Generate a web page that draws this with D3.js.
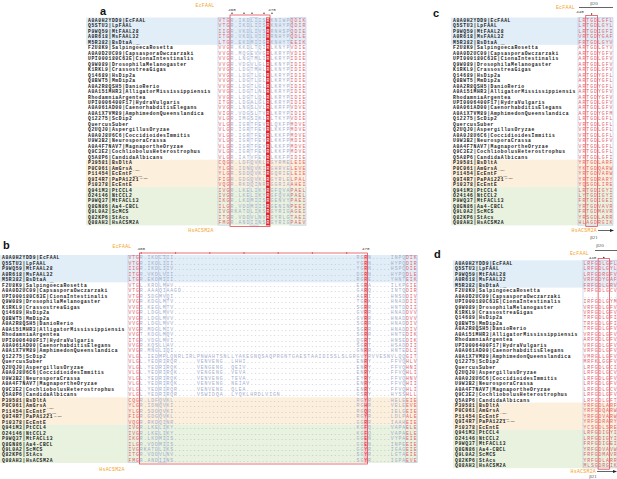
<!DOCTYPE html>
<html>
<head>
<meta charset="utf-8">
<script src="https://cdn.jsdelivr.net/npm/d3@7"></script>
<style>
  body { margin: 0; background: #fff; }
  svg { display: block; }
  text { font-family: "Liberation Mono", "DejaVu Sans Mono", monospace; }
  .lbl { font-weight: bold; font-size: 4.7px; letter-spacing: 0.6px; fill: #1b1b1b; }
  .res { font-size: 4.8px; }
  .tag { font-size: 4.8px; letter-spacing: 0.3px; fill: #f4a224; }
  .tick { font-size: 4.2px; fill: #333; }
  .beta { font-family: "Liberation Serif", serif; font-size: 5px; fill: #555; }
  .letter { font-family: "Liberation Sans", Arial, sans-serif; font-weight: bold; font-size: 11px; fill: #111; }
</style>
</head>
<body>
<svg id="fig" width="617" height="479"></svg>
<script>
// Sequence names, shared by all four alignment panels
const labels = [
  "A0A0H2YDD9|EcFAAL", "Q5STU3|LpFAAL", "P9WQ59|MtFAAL28", "A0R618|MsFAAL32", "M5R382|BsDtaA",
  "F2U8K9|SalpingoecaRosetta", "A0A0D2UC09|CapsasporaOwczarzaki", "UPI000180C63E|CionaIntestinalis",
  "Q9W089|DrosophilaMelanogaster", "K1RKL9|CrassostreaGigas", "Q14689|HsDip2a", "Q8BWT5|MmDip2a",
  "A0A2R8QSH5|DanioRerio", "A0A151MHR3|AlligatorMississippiensis", "RhodamniaArgentea",
  "UPI0006400F17|HydraVulgaris", "A0A061AD00|CaenorhabditisElegans", "A0A1X7VM89|AmphimedonQueenslandica",
  "Q12275|ScDip2", "QuercusSuber", "Q2UQJ0|AspergillusOryzae", "A0A0J8U6C6|CoccidioidesImmitis",
  "U9W3B2|NeurosporaCrassa", "A0A4F7NAV7|MagnaportheOryzae", "Q9C3E2|CochliobolusHeterostrophus",
  "Q5A8P6|CandidaAlbicans", "P39581|BsDltA", "P0C061|AmGrsA", "P11454|EcEntF", "Q9I4R7|PaPA1221",
  "P10378|EcEntE", "Q941M3|PtCCL4", "O24146|NtCCL2", "P9WQ37|MtFACL13", "Q8GN86|Aa4-CBCL",
  "Q9L0A2|ScMCS", "Q82KP6|StAcs", "Q08AH3|HsACSM2A"
];
// domain-range tags written after some names (row index, text, shift: 1 = sub, -1 = super)
const tagRows = [4, 27, 28, 29];
const tagTexts = ["1-466", "1-556", "523-960", "40-527"];
const tagShift = [1, 1, 1, -1];

// Row groups shaded behind the names
const bandFrom = [0, 26, 31];
const bandTo = [4, 30, 37];
const bandFill = ["#e2eef7", "#fcefdc", "#e8f2df"];

// Panel a: residues 457-475 region
const seqA = [
  "VTGR.IKDLIISRKNIWPQDIK", "VTGR.IKDLIISRKNHYPQDIR", "IIGR.VKDLIVSRRNHSPQDIE", "ITGR.VKDLVIDRRNHYPQDLE",
  "LTGR.EKDMIIGRKNHYTEEIK", "VVGR.KKDLTQIRLKNYPVDIE", "VVGR.MQGEVVGRLKRYPVDIE", "VVGR.LNGTMLIRLKRYPIDIE",
  "VVGR.VDGVLGLRLKNYPIDIE", "VVGR.LDGTMHLRLKNYPIDIE", "VVGR.LDGTLGLRLKRYPIDIE", "VVGR.LDGTLGLRLKRYPIDIE",
  "VVGR.LDGTLGLRLKRYPIDIE", "VVGR.LDGTLNLRLKRYPIDIE", "VVGR.LDGTLQLRLKRYPIDIE", "ITGR.LDGALGLRLKRYPIDIE",
  "VVGR.LNGSLVLRLKRFPVDVE", "VIGR.VDGSLTVRLKRYPIDIE", "VLGR.IMGSIKLRLTKYPVDIE", "VLGR.IGRTFEVRLQKFPMDVE",
  "VLGR.IGRTFEVRLKKFPMDVE", "VLGR.IGRTFEVRLKKFPMDVE", "VLGR.IGRTFEVRLKKFPMDIE", "VLGR.IGRTFEVRLKKFPMDVE",
  "VLGR.IGRTFEVRLKKFPMDVE", "VLGR.IATVFEVRLKKFPIDIE", "CQGR.LDFQVKLRGYRMELEIE", "YLGR.IDNQVKIRGHRVELEVE",
  "YLGR.SDDQVKIRGQRIELEIE", "FIGR.GDGQVKLRGYRLELPAL", "VQGR.RKDQINRRGGRIAAHEI", "IVGR.LKELIKYRGFQVAPAEL",
  "IVGR.LKELIKYRGFQVAPAEL", "IKGR.LKDMIISRGENVYPAEI", "ILGR.VDDMIISRGENINPEEI", "IVGRKATDLIKSRGYRIGAGEI",
  "ITGR.VDDVLNVRGYRLGTAEI", "FMGR.ANDIINSRGYRIGPAEV"
];

// Panel b: full alignment of the insertion, N-terminal part then the C-terminal part
const headB = [
  "VTGR.IKDLIII", "VTGR.IKDLIII", "IIGR.IKDLIIV", "ITGR.VKDLVII", "LTGR.EKDMIII", "VTGL.KRDLMHV",
  "VTGR.AAAQIAAGD", "VTGR.SDGMVQI", "VVGR.KDGLMTV", "VVGS.KEGLMTV", "VVGR.LDGLMVV", "VVGR.LDGLMVV",
  "VVGR.LDGLMVV", "VVGR.MDGLMIV", "VVGT.KDGLMQV", "ITGR.VDGLMVI", "VVGR.KQSLLAV", "VVGR.MNGLIQI",
  "VLGL.IEDMPLQNRLIRLPNWAHTSNLLYAKEGNQSAQPRGNTGAESTAAIDISSLSLGR",
  "VLGL.YEDRIRQR.....VENVENG..LHHI", "VLGL.YEDRIRQK.....VENGENG..QEIV", "VLGL.YEDRIRQK.....VENGENG..VEVA",
  "VLGL.YEDRIRQK.....VENVENG..TEVA", "VLGL.YEDRIRQK.....VENVENG..NEIAV", "VLGL.YEDRIRQR.....VENVENG..QLEA",
  "VLGL.YEDRIRQR.....VSWIDQA..LYQKLHRDLVIGN",
  "CQGR.LDFQVKL", "YLGR.IDNQVKI", "YLGR.SDDQVKI", "FIGR.GDGQVKL", "VQGR.RKDQINR", "IVGR.LKELIKY",
  "IVGR.LKELIKY", "IKGR.LKDMIIS", "ILGR.VDDMIIS", "IVGRKATDLIKS", "ITGR.VDDVLNV", "FMGR.ANDIINS"
];
const tailB = [
  "RGRN.....INPQDIK", "YGRN.....HYPQDIR", "YGRN.....HSPQDIE", "DGRN.....HYPQDLE", "RGRE.....YHNTEIK",
  "EGRA.....ILKPGIE", "GARQ.....INTQDIR", "AERI.....HNSDDIV", "TGRK.....HNADDII", "SGRR.....HNTDDII",
  "GVRR.....HNADDVV", "GVRR.....HNADDVV", "SGRR.....HNADDIV", "SGRR.....HNADDIV", "SGRR.....HNTEDIK",
  "QGRT.....HNSEDIK", "SGRT.....HSADDII", "GNRR.....HNTEDLI", "GVYRVVESNVLQQGIT", "ENRY.....FFVQHLV",
  "ENRY.....FFVQHNI", "ENRY.....FFVQHLI", "EYRY.....FFVQHNV", "ENRY.....FFVQHII", "ENRY.....FFVQHLI",
  "GSRY.....HYSSHLL", "RGYR.....HELEEIE", "RGHR.....VELEEVE", "RGQR.....IELGEIE", "RGYR.....LDLPALE",
  "GGRR.....IAAHEIE", "KGFQ.....VAPAELE", "KGFQ.....VAPAELE", "GGEN.....VYPAEIE", "GGEN.....INPEEIE",
  "GGYR.....IGAGEIE", "SGYR.....LGTAEIE", "SGYR.....IGPAEVE"
];

// Panels c and d: the beta20/beta21 hairpin around residue 440
const seqC = [
  "LRTGDLGFL", "LRTGDLGYL", "LRTGDIGFI", "VRTGDYGAF", "FRTGDLGYV", "ARTGDLGYV", "ARTGDYGFV", "ARTGDLGFV",
  "ARTGDLGFV", "ARTGDLGFV", "ARTGDYGFL", "ARTGDYGFL", "ARTGDYGFL", "ARTGDYGFV", "ARTGDYGFV", "ARTGDLGFV",
  "ARTGDLGFV", "ARTGDYGFM", "LRTGDLGFL", "VRTGDLGFL", "VRTGDLGFL", "VRTGDLGFL", "VRTGDLGFV", "VRTGDLGFL",
  "VRTGDLGFL", "VRTGDLGFI", "YRTGDLARF", "YKTGDQARW", "YRTGDVARW", "YRTGDRARY", "YQSGDLIRE", "LRTGDIGYI",
  "LYTGDIGYI", "FRTGDIGEI", "YRTGDVAVR", "FRTGDMAVR", "YRSGDLARR", "HLAGDRGIK"
];
const seqD = [
  "LRFGDLGFL", "LRFGDLGYL", "LRFGDRGFV", "VRFGDYGAF", "FRFGDLGRV", "TRFGDLGCV", ".........", "IRFGDLGYM",
  "VRFGDLGFV", "VRFGDLGFV", "TRFGDLGFI", "TRFGDLGFI", "TRFGDLGFV", "VRFGDLGFV", "ARFGDLGFV", "VRFGDLGFV",
  "VRFGDLGFV", "VMRGLLGFV", "MRFKLGGFV", "LRFGDLGCI", "LRFGDLGCV", "LRFGDLGFV", "LRFGDLGFV", "LRFGDLGCV",
  "LRFGDLGFV", "LRFGDLGFT", "YRFGDLARF", "YRFGDQARW", "YRFGDVARW", "YRFGDRARY", "YCSGDLSRE", "LRFGDIGYI",
  "LRFGDIGYI", "FRFGDIGEI", "YRFGDVAVW", "FRFGDMAVR", "YRFGDLARR", "MLSGDRGIK"
];

const ORANGE = "#f4a224";
const PINK = "#e2606b";
const GREY = "#a2abca";
const FRAME = "#a9bbe3";
const BOX = "#e0343e";

const svg = d3.select("#fig");

function panel(p) {
  const g = svg.append("g");
  const n = p.rows[0].length;
  const y = d3.scaleBand().domain(d3.range(labels.length)).range(p.yRange);
  const x = d3.scaleBand().domain(d3.range(n)).range(p.xRange);
  const bw = x.bandwidth();
  const rh = y.bandwidth();
  const top = p.yRange[0], bottom = p.yRange[1];

  // coloured groups behind names + sequences
  g.selectAll("rect.band")
    .data(d3.range(bandFrom.length))
    .join("rect")
    .attr("class", "band")
    .attr("x", p.bandX[0])
    .attr("width", p.bandX[1] - p.bandX[0])
    .attr("y", (i) => y(bandFrom[i]))
    .attr("height", (i) => y(bandTo[i]) + rh - y(bandFrom[i]))
    .attr("fill", (i) => bandFill[i])

  // invariant column
  if (p.idCol != null) {
    g.append("rect")
      .attr("x", x(p.idCol)).attr("width", bw)
      .attr("y", top).attr("height", bottom - top)
      .attr("fill", p.idFill)
  }

  // similarity frames
  g.selectAll("rect.frame")
    .data(p.frames)
    .join("rect")
    .attr("class", "frame")
    .attr("x", (d) => x(d[0]))
    .attr("width", (d) => x(d[1]) + bw - x(d[0]))
    .attr("y", top + 0.3)
    .attr("height", bottom - top - 0.6)
    .attr("fill", "none")
    .attr("stroke", FRAME)
    .attr("stroke-width", 0.5)

  // names
  const names = g.selectAll("text.lbl")
    .data(labels)
    .join("text")
    .attr("class", "lbl")
    .attr("x", p.labelX)
    .attr("y", (d, i) => y(i) + rh / 2 + 1.7)
    .text((d) => d)

  tagRows.forEach((r, k) => {
    const w = names.nodes()[r].getComputedTextLength()
    g.append("text")
      .attr("x", p.labelX + w + 0.5)
      .attr("y", y(r) + rh / 2 + 1.7 + tagShift[k] * 1.6)
      .attr("font-size", 2.2)
      .attr("fill", "#333")
      .text(tagTexts[k])
  })

  // residues
  const cells = p.rows.flatMap((s, r) => Array.from(s, (c, i) => ({ r, i, c })))
  g.selectAll("text.res")
    .data(cells)
    .join("text")
    .attr("class", "res")
    .attr("x", (d) => x(d.i) + bw / 2)
    .attr("y", (d) => y(d.r) + rh / 2 + 1.7)
    .attr("text-anchor", "middle")
    .attr("fill", (d) => {
      if (d.i === p.idCol) return p.idText
      if (d.c === ".") return GREY
      return p.pink.includes(d.i) ? PINK : GREY
    })
    .text((d) => d.c)

  // highlighted motif box
  g.append("rect")
    .attr("x", x(p.box[0]))
    .attr("width", x(p.box[1]) + bw - x(p.box[0]))
    .attr("y", p.boxTop)
    .attr("height", bottom - p.boxTop + 1)
    .attr("fill", "none")
    .attr("stroke", BOX)
    .attr("stroke-width", 0.7)

  // numbering
  g.selectAll("text.tick")
    .data(p.tickCols)
    .join("text")
    .attr("class", "tick")
    .attr("x", (d) => x(d) + bw / 2)
    .attr("y", p.tickY)
    .attr("text-anchor", "middle")
    .text((d, i) => p.tickText[i])

  g.selectAll("circle.dot")
    .data(p.dotCols)
    .join("circle")
    .attr("cx", (d) => x(d) + bw / 2)
    .attr("cy", p.dotY)
    .attr("r", 0.7)
    .attr("fill", p.dotFill)

  return { g, x, y, bw }
}

// ---- panel a
const pa = panel({
  rows: seqA, yRange: [17.5, 225.4], xRange: [218, 306], bandX: [86, 306], labelX: 88,
  pink: [0, 1, 2, 18, 19, 20, 21], frames: [[0, 2], [8, 9], [18, 21]],
  idCol: 12, idFill: "#e0262f", idText: "#fff",
  box: [3, 12], boxTop: 15,
  tickCols: [3, 13], tickText: ["460", "470"], tickY: 10.5,
  dotCols: [3, 6, 8, 11, 13], dotY: 13.2, dotFill: "#222"
})
pa.g.append("text").attr("class", "tag").attr("x", 205).attr("y", 7).attr("text-anchor", "middle").text("EcFAAL")
pa.g.append("text").attr("class", "tag").attr("x", 201).attr("y", 232).attr("text-anchor", "middle").text("HsACSM2A")

// ---- panel b
const rowsB = headB.map((h, i) => h.padEnd(60, ".") + tailB[i])
const pb = panel({
  rows: rowsB, yRange: [255, 463], xRange: [128, 417], bandX: [0, 418], labelX: 2,
  pink: [0, 1, 2, 73, 74, 75], frames: [[0, 2], [8, 9], [73, 75]],
  idCol: 62, idFill: "#f4c3c7", idText: "#d1242f",
  box: [3, 62], boxTop: 253,
  tickCols: [3, 62], tickText: ["460", "470"], tickY: 250,
  dotCols: [3, 12, 21, 30, 39, 48, 57], dotY: 253, dotFill: BOX
})
pb.g.append("text").attr("class", "tag").attr("x", 122).attr("y", 248).attr("text-anchor", "middle").text("EcFAAL")
pb.g.append("text").attr("class", "tag").attr("x", 112).attr("y", 471).attr("text-anchor", "middle").text("HsACSM2A")

// ---- panel c
const pc = panel({
  rows: seqC, yRange: [17.5, 225.4], xRange: [578, 613], bandX: [451, 613], labelX: 453,
  pink: d3.range(9), frames: [[0, 8]],
  idCol: null, box: [2, 4], boxTop: 15.5,
  tickCols: [0], tickText: ["440"], tickY: 12.5,
  dotCols: [3], dotY: 14, dotFill: "#222"
})
pc.g.append("text").attr("class", "tag").attr("x", 575).attr("y", 8.5).attr("text-anchor", "end").text("EcFAAL")
pc.g.append("line").attr("x1", 579).attr("x2", 613).attr("y1", 7.5).attr("y2", 7.5).attr("stroke", "#222").attr("stroke-width", 0.7)
pc.g.append("text").attr("class", "beta").attr("x", 594).attr("y", 5).attr("text-anchor", "middle").text("β20")
pc.g.append("text").attr("class", "tag").attr("x", 597).attr("y", 232).attr("text-anchor", "end").text("HsACSM2A")
pc.g.append("line").attr("x1", 598).attr("x2", 611).attr("y1", 230.5).attr("y2", 230.5).attr("stroke", "#222").attr("stroke-width", 0.7)
pc.g.append("path").attr("d", "M610,229 L614,230.5 L610,232 Z").attr("fill", "#222")
pc.g.append("text").attr("class", "beta").attr("x", 594).attr("y", 238.5).attr("text-anchor", "middle").text("β21")

// ---- panel d
const pd = panel({
  rows: seqD, yRange: [260.3, 468.2], xRange: [583, 617], bandX: [453, 617], labelX: 455,
  pink: d3.range(9), frames: [[0, 8]],
  idCol: null, box: [4, 6], boxTop: 258.5,
  tickCols: [2], tickText: ["440"], tickY: 258.6,
  dotCols: [5], dotY: 257.4, dotFill: "#222"
})
pd.g.append("text").attr("class", "tag").attr("x", 589).attr("y", 254.5).attr("text-anchor", "end").text("EcFAAL")
pd.g.append("line").attr("x1", 595).attr("x2", 617).attr("y1", 250.5).attr("y2", 250.5).attr("stroke", "#222").attr("stroke-width", 0.7)
pd.g.append("text").attr("class", "beta").attr("x", 600).attr("y", 247).attr("text-anchor", "middle").text("β20")
pd.g.append("text").attr("class", "tag").attr("x", 596).attr("y", 473).attr("text-anchor", "end").text("HsACSM2A")
pd.g.append("line").attr("x1", 597).attr("x2", 614).attr("y1", 471.5).attr("y2", 471.5).attr("stroke", "#222").attr("stroke-width", 0.7)
pd.g.append("path").attr("d", "M613,470 L617,471.5 L613,473 Z").attr("fill", "#222")
pd.g.append("text").attr("class", "beta").attr("x", 593).attr("y", 478).attr("text-anchor", "middle").text("β21")

// panel letters
const letters = ["a", "b", "c", "d"]
const letterX = [100, 3, 433, 434]
const letterY = [15, 249, 17, 258]
svg.selectAll("text.letter")
  .data(letters)
  .join("text")
  .attr("class", "letter")
  .attr("x", (d, i) => letterX[i])
  .attr("y", (d, i) => letterY[i])
  .text((d) => d)
</script>
</body>
</html>
